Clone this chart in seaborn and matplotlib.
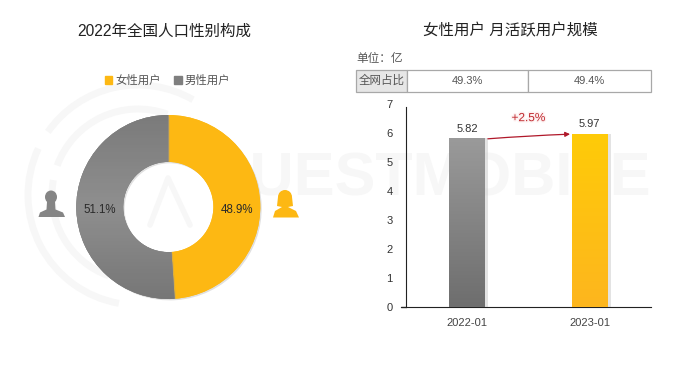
import numpy as np
import matplotlib
matplotlib.use("Agg")
import matplotlib.pyplot as plt
import matplotlib.patches as mpatches
import matplotlib.patheffects as pe
from matplotlib.colors import LinearSegmentedColormap
import seaborn as sns

# ── Data ───────────────────────────────────────────────────────────────────────
gender_labels = ["女性用户", "男性用户"]
gender_share = [48.9, 51.1]

months = ["2022-01", "2023-01"]
mau = [5.82, 5.97]
net_share = ["49.3%", "49.4%"]
share_header = "全网占比"
growth_label = "+2.5%"
y_ticks = [0, 1, 2, 3, 4, 5, 6, 7]

YELLOW = "#FDB813"
GREY = "#858585"
W, H = 679, 366

sns.set_style("white")
plt.rcParams["font.family"] = ["Liberation Sans", "Noto Sans CJK SC"]

fig = plt.figure(figsize=(W / 100, H / 100), dpi=100)


# pixel box (left, top, right, bottom) -> figure fraction rect
def px_rect(x0, y0, x1, y1):
    return [x0 / W, 1 - y1 / H, (x1 - x0) / W, (y1 - y0) / H]


def gradient(ax, patch, colors, zorder=3):
    x, y = patch.get_x(), patch.get_y()
    cmap = LinearSegmentedColormap.from_list("g", colors)
    im = ax.imshow(np.linspace(0, 1, 64)[:, None], cmap=cmap, aspect="auto",
                   origin="upper", zorder=zorder,
                   extent=(x, x + patch.get_width(), y, y + patch.get_height()))
    im.set_clip_path(patch)


# ── Watermark, behind everything ───────────────────────────────────────────────
bg = fig.add_axes([0, 0, 1, 1], zorder=0)
bg.set_xlim(0, W)
bg.set_ylim(H, 0)
bg.axis("off")
wm = "#F7F7F7"
for r, t1, t2 in [(110, 100, 205), (110, 215, 300), (86, 110, 190), (86, 200, 290)]:
    bg.add_patch(mpatches.Arc((138, 195), 2 * r, 2 * r, theta1=t1, theta2=t2,
                              color=wm, lw=5))
bg.plot([150, 168, 190], [225, 178, 225], color=wm, lw=4)
bg.text(651, 180, "QUESTMOBILE", color=wm, fontsize=44, ha="right", va="center",
        fontweight="bold", family="Liberation Sans")

# ── Donut ──────────────────────────────────────────────────────────────────────
ax1 = fig.add_axes(px_rect(58.3, 97, 278.3, 317), zorder=1)
ax1.patch.set_visible(False)
wedges, _, pcts = ax1.pie(
    gender_share, colors=[YELLOW, GREY], startangle=90, counterclock=False,
    radius=1, autopct="%.1f%%", pctdistance=0.745,
    wedgeprops=dict(width=0.51, linewidth=0),
    textprops=dict(fontsize=8.3, color="#2a2a2a"),
)
for w in wedges:
    w.set_path_effects([pe.withSimplePatchShadow(offset=(1.0, -1.0), shadow_rgbFace="#999999",
                                                 alpha=0.3), pe.Normal()])
for t in pcts:
    t.set_y(-0.03)
    t.set_zorder(5)
gimg = ax1.imshow(np.linspace(0, 1, 64)[:, None], aspect="auto", zorder=3,
                  cmap=LinearSegmentedColormap.from_list("g", ["#777777", "#8F8F8F", "#727272"]),
                  extent=(-1.2, 1.2, -1.2, 1.2))
gimg.set_clip_path(wedges[1])
ax1.set_xlim(-110 / 92, 110 / 92)
ax1.set_ylim(-110 / 92, 110 / 92)
ax1.set_aspect("equal")
ax1.axis("off")

handles = [mpatches.Patch(color=c, label=l) for c, l in zip([YELLOW, "#7F7F7F"], gender_labels)]
fig.legend(handles=handles, loc="center", bbox_to_anchor=(167.5 / W, 1 - 80.5 / H), ncol=2,
           frameon=False, fontsize=8.2, labelcolor="#555555", handlelength=0.7, handleheight=0.7,
           handletextpad=0.3, columnspacing=1.07, borderpad=0)

# ── Person icons ───────────────────────────────────────────────────────────────
fg = fig.add_axes([0, 0, 1, 1], zorder=3)
fg.set_xlim(0, W)
fg.set_ylim(H, 0)
fg.axis("off")
fg.add_patch(mpatches.Ellipse((51, 197), 12, 13, color=GREY, lw=0))
fg.add_patch(mpatches.Polygon([(38.5, 217), (40, 212.5), (46.5, 209.5), (47, 202), (55, 202), (55.5, 209.5),
                               (63, 212.5), (65, 217)], color=GREY, lw=0))
fg.add_patch(mpatches.Ellipse((285, 197), 14, 14, color=YELLOW, lw=0))
fg.add_patch(mpatches.Polygon([(278, 197), (292, 197), (293, 206), (288, 207), (296, 211), (299, 217.5),
                               (273, 217.5), (275, 211), (282, 207), (277, 206)], color=YELLOW, lw=0))

# ── Bars ───────────────────────────────────────────────────────────────────────
ax2 = fig.add_axes(px_rect(405.7, 103.6, 651, 307.3), zorder=2)
ax2.patch.set_visible(False)
sns.barplot(x=months, y=mau, hue=months, palette=["#8A8A8A", "#FDC010"], width=0.29,
            legend=False, ax=ax2, linewidth=0, saturation=1)
ax2.set_xlim(-0.5, 1.5)
ax2.set_ylim(0, 7)
ax2.set_yticks(y_ticks)
fills = [["#9A9A9A", "#6E6E6E"], ["#FFCB08", "#FDB61E"]]
for bar, cols in zip(ax2.patches, fills):
    bar.set_path_effects([pe.withSimplePatchShadow(offset=(2.4, -0.3), shadow_rgbFace="#BBBBBB",
                                                   alpha=0.4), pe.Normal()])
    gradient(ax2, bar, cols)
ax2.set_xlim(-0.5, 1.5)
ax2.set_ylim(0, 7)
for s in ["top", "right"]:
    ax2.spines[s].set_visible(False)
ax2.spines["left"].set_bounds(0, 6.9)
ax2.spines["left"].set_color("#222222")
ax2.spines["bottom"].set_color("#222222")
ax2.plot([-0.018, 0], [0, 0], transform=ax2.get_yaxis_transform(), color="#222222", lw=1, clip_on=False)
ax2.tick_params(axis="y", length=0, pad=9.5, labelsize=8, labelcolor="#333333", left=False)
ax2.tick_params(axis="x", length=0, pad=8, labelsize=8, labelcolor="#444444", bottom=False)

for i, v in enumerate(mau):
    ax2.text(i, v + 0.32, f"{v:.2f}", ha="center", va="center", fontsize=8, color="#333333")
ax2.annotate("", xy=(1 - 0.16, mau[1] - 0.02), xytext=(0.17, mau[0] - 0.03),
             arrowprops=dict(arrowstyle="-|>", color="#B0182A", lw=0.9, mutation_scale=7,
                             shrinkA=0, shrinkB=0, connectionstyle="arc3,rad=-0.01"))
ax2.text(0.5, 6.5, growth_label, ha="center", va="center", fontsize=8.5, color="#C0272D",
         path_effects=[pe.withStroke(linewidth=2, foreground="#FDF1F1")])

# ── Share table ────────────────────────────────────────────────────────────────
ax3 = fig.add_axes(px_rect(356, 70, 651, 91.5), zorder=2)
ax3.axis("off")
tb = ax3.table(cellText=[[share_header] + net_share], cellLoc="center", bbox=[0, 0, 1, 1],
               colWidths=[51 / 295, 121 / 295, 123 / 295])
tb.auto_set_font_size(False)
tb.set_fontsize(8)
for (r, c), cell in tb.get_celld().items():
    cell.set_edgecolor("#A8A8A8")
    cell.set_linewidth(0.9)
    cell.get_text().set_color("#555555")
    cell.PAD = 0.02
tb[(0, 0)].set_facecolor("#E6E6E6")
tb[(0, 0)].get_text().set_fontsize(8.3)

# ── Titles ─────────────────────────────────────────────────────────────────────
fig.text(164 / W, 1 - 31 / H, "2022年全国人口性别构成", ha="center", va="center", fontsize=11.2, color="#222222")
fig.text(510.5 / W, 1 - 31 / H, "女性用户 月活跃用户规模", ha="center", va="center", fontsize=11.15, color="#222222")
fig.text(356 / W, 1 - 59 / H, "单位：亿", ha="left", va="center", fontsize=8.4, color="#555555")

fig.savefig("out.png", dpi=100)
plt.close()
